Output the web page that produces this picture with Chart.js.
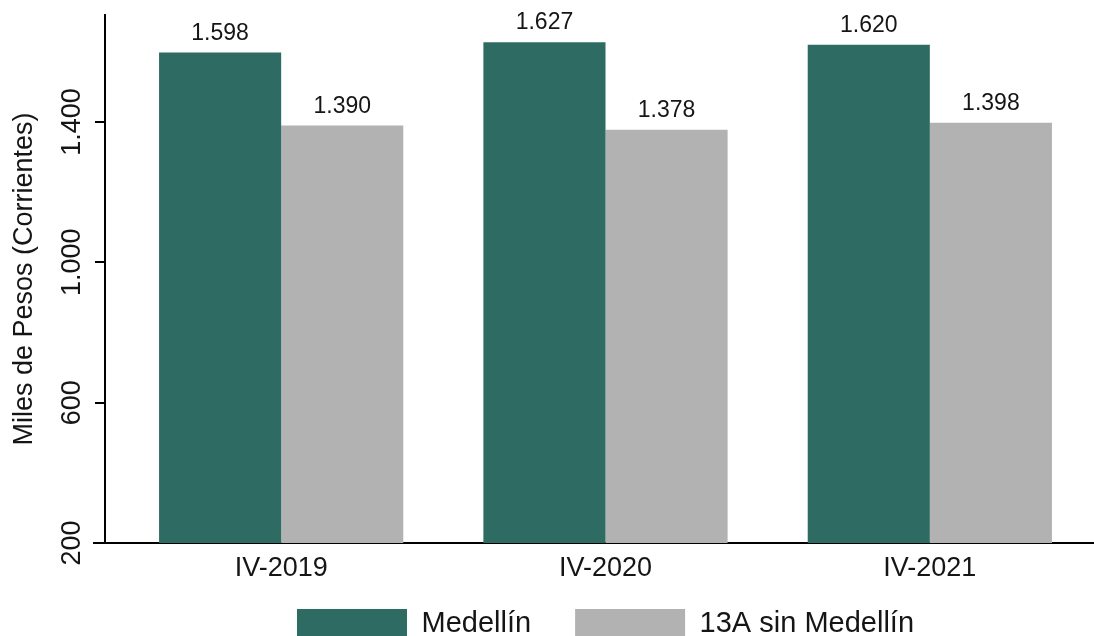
<!DOCTYPE html>
<html>
<head>
<meta charset="utf-8">
<script src="https://cdn.jsdelivr.net/npm/chart.js@4/dist/chart.umd.min.js"></script>
<style>
html,body{margin:0;padding:0;background:#fff;}
#wrap{width:1094px;height:636px;}
</style>
</head>
<body>
<div id="wrap"><canvas id="c" width="1094" height="636"></canvas></div>
<script>
const categories = ['IV-2019', 'IV-2020', 'IV-2021'];
const seriesNames = ['Medellín', '13A sin Medellín'];
const medellin = [1598, 1627, 1620];
const sinMedellin = [1390, 1378, 1398];
const yTickValues = [200, 600, 1000, 1400];
const yTitle = 'Miles de Pesos (Corrientes)';

const FONT = "'Liberation Sans', Arial, Helvetica, sans-serif";
const GREEN = '#2e6b63';
const GRAY = '#b2b2b2';
const TEXT = '#151515';

function fmt(v) {
  return String(Math.round(v)).replace(/\B(?=(\d{3})+(?!\d))/g, '.');
}

const dataLabels = {
  id: 'dataLabels',
  afterDatasetsDraw(chart) {
    const ctx = chart.ctx;
    ctx.save();
    ctx.font = '23px ' + FONT;
    ctx.fillStyle = TEXT;
    ctx.textAlign = 'center';
    ctx.textBaseline = 'alphabetic';
    chart.data.datasets.forEach((ds, i) => {
      const meta = chart.getDatasetMeta(i);
      meta.data.forEach((bar, j) => {
        ctx.fillText(fmt(ds.data[j]), bar.x, bar.y - 13);
      });
    });
    ctx.restore();
  }
};

const axisShift = {
  id: 'axisShift',
  afterLayout(chart) {
    const y = chart.scales.y;
    y.right = 105;
    const x = chart.scales.x;
    x.left = 94;
    x.right = 1094;
    x.bottom = 605;
  }
};

new Chart(document.getElementById('c'), {
  type: 'bar',
  data: {
    labels: categories,
    datasets: [
      { label: seriesNames[0], data: medellin, backgroundColor: GREEN, borderWidth: 0,
        categoryPercentage: 0.753, barPercentage: 1 },
      { label: seriesNames[1], data: sinMedellin, backgroundColor: GRAY, borderWidth: 0,
        categoryPercentage: 0.753, barPercentage: 1 }
    ]
  },
  options: {
    responsive: false,
    devicePixelRatio: 1,
    animation: false,
    layout: { padding: { top: 15, right: 2, bottom: -13, left: 0 } },
    plugins: {
      tooltip: { enabled: false },
      legend: {
        position: 'bottom',
        fullSize: false,
        labels: {
          boxWidth: 110,
          boxHeight: 30,
          padding: 44,
          color: TEXT,
          font: { family: FONT, size: 29 }
        }
      }
    },
    scales: {
      x: {
        grid: { display: false, drawTicks: false },
        border: { display: true, color: '#000', width: 2 },
        ticks: { color: TEXT, padding: 9, font: { family: FONT, size: 27 } },
        afterFit(s) { s.height = 22; }
      },
      y: {
        min: 200,
        max: 1705,
        afterBuildTicks(s) { s.ticks = yTickValues.map(v => ({ value: v })); },
        grid: { display: true, drawOnChartArea: false, drawTicks: true, tickLength: 10, color: '#000', lineWidth: 2 },
        border: { display: true, color: '#000', width: 2 },
        ticks: {
          color: TEXT,
          minRotation: 90,
          maxRotation: 90,
          crossAlign: 'center',
          padding: -11,
          font: { family: FONT, size: 27 },
          callback: (v) => fmt(v)
        },
        title: {
          display: true,
          text: yTitle,
          color: TEXT,
          padding: { top: 8, bottom: 0 },
          font: { family: FONT, size: 27 }
        },
        afterFit(s) { s.width = 119; }
      }
    }
  },
  plugins: [dataLabels, axisShift]
});
</script>
</body>
</html>
